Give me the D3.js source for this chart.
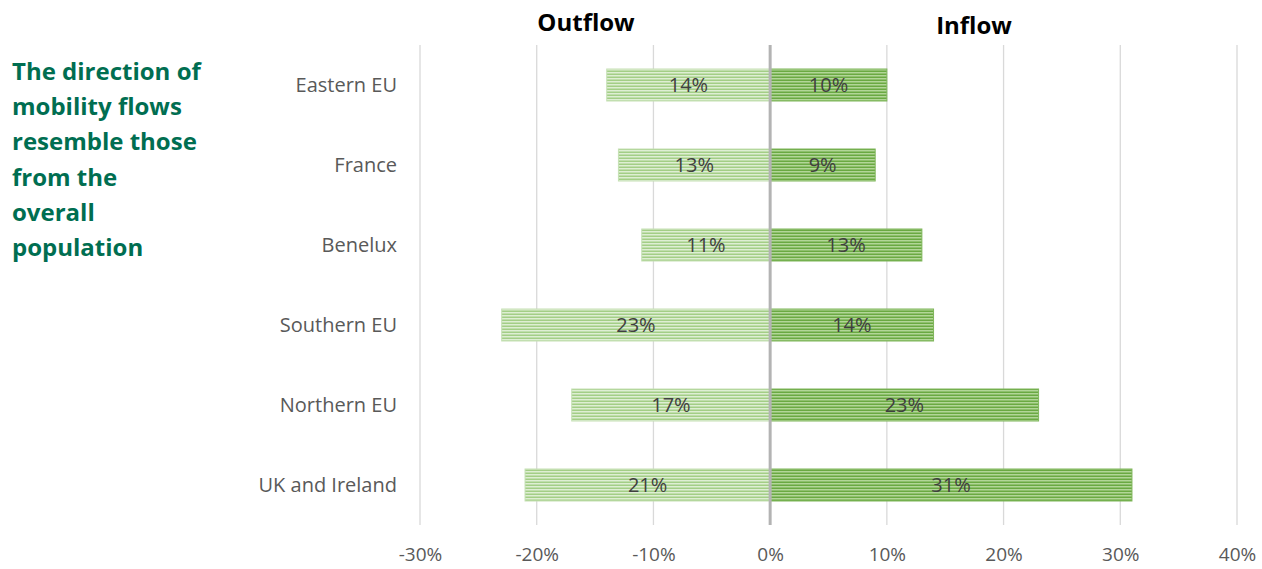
<!DOCTYPE html>
<html>
<head>
<meta charset="utf-8">
<script src="https://cdn.jsdelivr.net/npm/d3@7"></script>
<style>
  body { margin: 0; background: #fff; }
  svg text { font-family: "Open Sans", "Liberation Sans", sans-serif; }
</style>
</head>
<body>
<div id="chart"></div>
<script>
(function() {
  // data
  var regions = ['Eastern EU', 'France', 'Benelux', 'Southern EU', 'Northern EU', 'UK and Ireland']
  var outflow = [14, 13, 11, 23, 17, 21]
  var inflow = [10, 9, 13, 14, 23, 31]
  var xTicks = [-30, -20, -10, 0, 10, 20, 30, 40]
  var titleLines = ['The direction of', 'mobility flows', 'resemble those', 'from the', 'overall', 'population']

  var W = 1262, H = 569
  var margin = { left: 420, right: 25, top: 45, bottom: 44 }
  var width = W - margin.left - margin.right
  var height = H - margin.top - margin.bottom

  var root = d3.select('#chart')
    .append('svg')
    .attr('width', W)
    .attr('height', H)

  // stripes, like the excel fill
  var defs = root.append('defs')
  function stripes(id, base, line) {
    var p = defs.append('pattern')
      .attr('id', id)
      .attr('patternUnits', 'userSpaceOnUse')
      .attr('width', 6)
      .attr('height', 3)
    p.append('rect').attr('width', 6).attr('height', 3).attr('fill', base)
    p.append('rect').attr('y', 1.5).attr('width', 6).attr('height', 1.5).attr('fill', line)
  }
  stripes('outStripe', '#deeed3', '#a3ce86')
  stripes('inStripe', '#b2d698', '#6aa942')

  var svg = root.append('g')
    .attr('transform', `translate(${margin.left},${margin.top})`)

  var x = d3.scaleLinear().domain([-30, 40]).range([0, width])
  var y = d3.scaleBand().domain(regions).range([0, height]).paddingInner(0.6).paddingOuter(0.3)

  // grid
  svg.append('g')
    .selectAll('line')
    .data(xTicks.filter(d => d !== 0))
    .enter().append('line')
    .attr('x1', d => x(d))
    .attr('x2', d => x(d))
    .attr('y1', 0)
    .attr('y2', height)
    .attr('stroke', '#d9d9d9')
    .attr('stroke-width', 1.3)

  var rows = regions.map((r, i) => ({ region: r, out: outflow[i], inn: inflow[i] }))

  // outflow bars (left)
  svg.append('g')
    .selectAll('rect')
    .data(rows)
    .enter().append('rect')
    .attr('x', d => x(-d.out))
    .attr('y', d => y(d.region))
    .attr('width', d => x(0) - x(-d.out))
    .attr('height', y.bandwidth())
    .attr('fill', 'url(#outStripe)')
    .attr('stroke', '#c5e0b4')
    .attr('stroke-width', 1)

  // inflow bars (right)
  svg.append('g')
    .selectAll('rect')
    .data(rows)
    .enter().append('rect')
    .attr('x', x(0))
    .attr('y', d => y(d.region))
    .attr('width', d => x(d.inn) - x(0))
    .attr('height', y.bandwidth())
    .attr('fill', 'url(#inStripe)')
    .attr('stroke', '#7fb65a')
    .attr('stroke-width', 1)

  // zero line
  svg.append('line')
    .attr('x1', x(0))
    .attr('x2', x(0))
    .attr('y1', 0)
    .attr('y2', height)
    .attr('stroke', '#b3b3b3')
    .attr('stroke-width', 3)

  // value labels
  svg.append('g')
    .selectAll('text')
    .data(rows)
    .enter().append('text')
    .attr('x', d => x(-d.out / 2))
    .attr('y', d => y(d.region) + y.bandwidth() / 2)
    .attr('dy', '0.36em')
    .attr('text-anchor', 'middle')
    .attr('font-size', 20)
    .attr('fill', '#404040')
    .text(d => d.out + '%')

  svg.append('g')
    .selectAll('text')
    .data(rows)
    .enter().append('text')
    .attr('x', d => x(d.inn / 2))
    .attr('y', d => y(d.region) + y.bandwidth() / 2)
    .attr('dy', '0.36em')
    .attr('text-anchor', 'middle')
    .attr('font-size', 20)
    .attr('fill', '#404040')
    .text(d => d.inn + '%')

  // category labels
  svg.append('g')
    .selectAll('text')
    .data(regions)
    .enter().append('text')
    .attr('x', -23)
    .attr('y', d => y(d) + y.bandwidth() / 2)
    .attr('dy', '0.36em')
    .attr('text-anchor', 'end')
    .attr('font-size', 20)
    .attr('fill', '#595959')
    .text(d => d)

  // x axis labels
  var xAxis = d3.axisBottom(x)
    .tickValues(xTicks)
    .tickSize(0)
    .tickPadding(23)
    .tickFormat(d => d + '%')

  svg.append('g')
    .attr('transform', `translate(0,${height})`)
    .call(xAxis)
    .call(g => g.select('.domain').remove())
    .call(g => g.selectAll('text')
      .attr('font-size', 19)
      .attr('fill', '#595959')
      .style('font-family', '"Open Sans", sans-serif'))

  // headers
  root.append('text')
    .attr('x', 586)
    .attr('y', 31)
    .attr('text-anchor', 'middle')
    .attr('font-size', 24)
    .attr('font-weight', 'bold')
    .attr('fill', '#000')
    .text('Outflow')

  root.append('text')
    .attr('x', 974)
    .attr('y', 34)
    .attr('text-anchor', 'middle')
    .attr('font-size', 24)
    .attr('font-weight', 'bold')
    .attr('fill', '#000')
    .text('Inflow')

  // side title
  root.append('text')
    .attr('font-size', 24)
    .attr('font-weight', 'bold')
    .attr('fill', '#006e51')
    .selectAll('tspan')
    .data(titleLines)
    .enter().append('tspan')
    .attr('x', 12)
    .attr('y', (d, i) => 80 + i * 35.2)
    .text(d => d)
})()
</script>
</body>
</html>
